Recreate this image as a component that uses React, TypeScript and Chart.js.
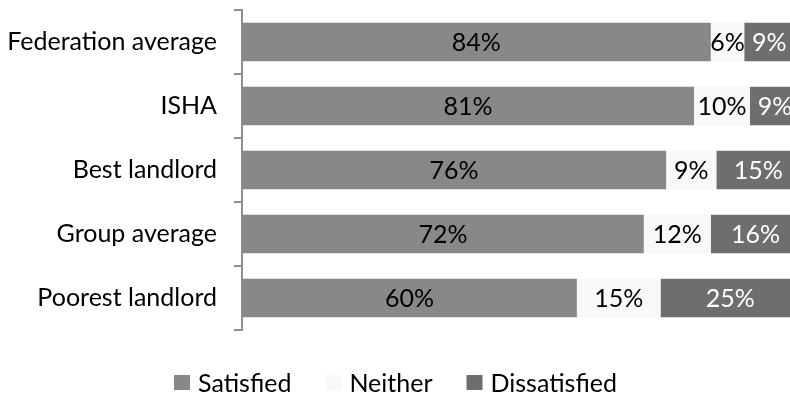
import { useEffect, useRef } from 'react';
import { Chart, registerables } from 'chart.js';

Chart.register(...registerables);

const categories = ['Federation average', 'ISHA', 'Best landlord', 'Group average', 'Poorest landlord'];
const satisfied = [84, 81, 76, 72, 60];
const neither = [6, 10, 9, 12, 15];
const dissatisfied = [9, 9, 15, 16, 25];
const seriesLabels = ['Satisfied', 'Neither', 'Dissatisfied'];

const seriesColors = ['#888888', '#f8f8f8', '#6e6e6e'];
const valueColors = ['#000000', '#000000', '#ffffff'];
const FONT_FAMILY = 'Lato, "Open Sans", sans-serif';
const FONT_SIZE = 25;
const AXIS_COLOR = '#8f8f8f';

// Percentage text centred inside each stacked segment
const valueLabels = {
  id: 'valueLabels',
  afterDatasetsDraw(chart: any) {
    const { ctx } = chart;
    ctx.save();
    ctx.font = `${FONT_SIZE}px ${FONT_FAMILY}`;
    ctx.textAlign = 'center';
    ctx.textBaseline = 'middle';
    chart.data.datasets.forEach((ds: any, i: number) => {
      const meta = chart.getDatasetMeta(i);
      ctx.fillStyle = valueColors[i];
      meta.data.forEach((el: any, j: number) => {
        const { x, y, base } = el.getProps(['x', 'y', 'base'], true);
        ctx.fillText(`${ds.data[j]}%`, (x + base) / 2, y + 1);
      });
    });
    ctx.restore();
  },
};

// Single-row legend centred under the plot
const bottomLegend = {
  id: 'bottomLegend',
  afterDraw(chart: any) {
    const { ctx, width } = chart;
    const box = 16;
    const gap = 8;
    const spacing = 34;
    const cy = 383;
    ctx.save();
    ctx.font = `${FONT_SIZE}px ${FONT_FAMILY}`;
    ctx.textAlign = 'left';
    ctx.textBaseline = 'middle';
    const items = chart.data.datasets.map((ds: any) => ({
      text: ds.label as string,
      color: ds.backgroundColor as string,
      w: ctx.measureText(ds.label).width,
    }));
    const total =
      items.reduce((s: number, it: any) => s + box + gap + it.w, 0) + spacing * (items.length - 1);
    let x = Math.round((width - total) / 2);
    items.forEach((it: any) => {
      ctx.fillStyle = it.color;
      ctx.fillRect(x, cy - 8, box, 15);
      ctx.fillStyle = '#000000';
      ctx.fillText(it.text, x + box + gap, cy + 1);
      x += box + gap + it.w + spacing;
    });
    ctx.restore();
  },
};

export default function App() {
  const canvasRef = useRef<HTMLCanvasElement | null>(null);

  useEffect(() => {
    if (!canvasRef.current) return;
    const seriesData = [satisfied, neither, dissatisfied];
    const chart = new Chart(canvasRef.current, {
      type: 'bar',
      data: {
        labels: categories,
        datasets: seriesLabels.map((label, i) => ({
          label,
          data: seriesData[i],
          backgroundColor: seriesColors[i],
          borderWidth: 0,
          categoryPercentage: 1,
          barPercentage: 0.6,
        })),
      },
      options: {
        indexAxis: 'y',
        responsive: false,
        animation: false,
        devicePixelRatio: 1,
        layout: { padding: { top: 10, bottom: 67, left: 0, right: 0 } },
        plugins: {
          legend: { display: false },
          tooltip: { enabled: false },
        },
        scales: {
          x: {
            stacked: true,
            display: false,
            min: 0,
            max: 98.2,
          },
          y: {
            stacked: true,
            z: 1,
            grid: {
              drawOnChartArea: false,
              drawTicks: true,
              tickLength: 8,
              color: AXIS_COLOR,
              lineWidth: 2,
            },
            border: { display: true, color: AXIS_COLOR, width: 2 },
            ticks: {
              color: '#000000',
              padding: 17,
              font: { family: FONT_FAMILY, size: FONT_SIZE },
            },
            afterFit(scale: any) {
              scale.width = 242;
              scale.paddingTop = 0;
              scale.paddingBottom = 0;
            },
          },
        },
      },
      plugins: [valueLabels, bottomLegend],
    });
    return () => chart.destroy();
  }, []);

  return (
    <div style={{ position: 'absolute', left: 0, top: 0, width: 790, height: 397, background: '#ffffff' }}>
      <canvas ref={canvasRef} width={790} height={397} style={{ display: 'block' }} />
    </div>
  );
}
